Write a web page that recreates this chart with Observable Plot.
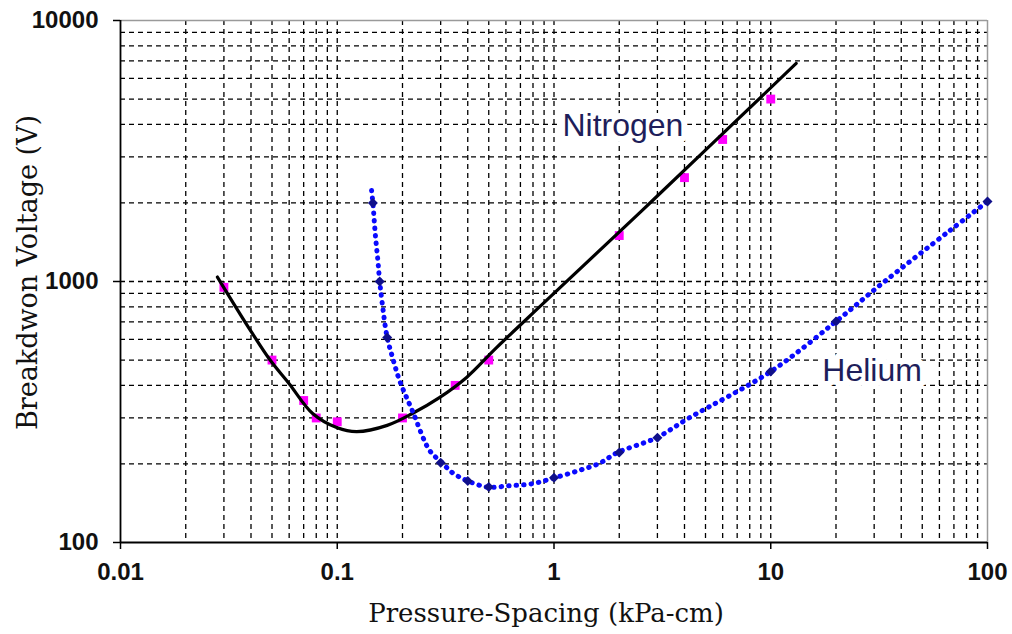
<!DOCTYPE html>
<html><head><meta charset="utf-8">
<script src="https://cdn.jsdelivr.net/npm/d3@7"></script>
<script src="https://cdn.jsdelivr.net/npm/@observablehq/plot@0.6"></script>
<style>html,body{margin:0;padding:0;background:#fff}</style>
</head><body><div id="chart"></div>
<script>
// Axis ticks and grid
const xTicks = [0.01, 0.1, 1, 10, 100];
const xTickLabels = ["0.01", "0.1", "1", "10", "100"];
const yTicks = [100, 1000, 10000];
const yTickLabels = ["100", "1000", "10000"];
const xGrid = [0.02,0.03,0.04,0.05,0.06,0.07,0.08,0.09,0.1,0.2,0.3,0.4,0.5,0.6,0.7,0.8,0.9,1,2,3,4,5,6,7,8,9,10,20,30,40,50,60,70,80,90];
const yGrid = [200,300,400,500,600,700,800,900,1000,2000,3000,4000,5000,6000,7000,8000,9000];

// Nitrogen measured points (magenta squares)
const n2PointX = [0.03, 0.05, 0.07, 0.08, 0.1, 0.2, 0.35, 0.5, 2, 4, 6, 10];
const n2PointY = [950, 500, 350, 300, 290, 300, 400, 500, 1500, 2500, 3500, 5000];
// Nitrogen fitted curve (black line)
const n2CurveX = [0.028, 0.039, 0.049, 0.060, 0.077, 0.100, 0.123, 0.170, 0.222, 0.296, 0.395, 0.543, 0.923, 2.85, 13.1];
const n2CurveY = [1040, 666, 500, 406, 312, 275, 266, 281, 312, 359, 429, 558, 846, 2043, 6845];

// Helium measured points (diamonds)
const hePointX = [0.146, 0.157, 0.17, 0.3, 0.4, 0.5, 1, 2, 3, 10, 20, 100];
const hePointY = [2000, 1000, 610, 202, 172, 163, 177, 221, 252, 452, 703, 2026];
// Helium curve (blue dotted line)
const heCurveX = [0.144, 0.146, 0.150, 0.154, 0.157, 0.162, 0.170, 0.180, 0.194, 0.222, 0.267, 0.303, 0.340, 0.395, 0.493, 0.623, 0.795, 1.005, 1.31, 1.62, 1.96, 2.97, 4.2, 10, 20, 33, 67, 100];
const heCurveY = [2230, 2000, 1500, 1200, 1000, 800, 610, 511, 417, 320, 225, 203, 185, 173, 163, 165, 168, 177, 189, 201, 221, 252, 300, 452, 703, 990, 1567, 2026];

// Curve labels
const labelText = ["Nitrogen", "Helium"];
const labelX = [1.094, 17.3];
const labelY = [3597, 417];

const zip = (xs, ys) => xs.map((x, i) => ({x, y: ys[i]}));
const n2Points = zip(n2PointX, n2PointY);
const n2Curve = zip(n2CurveX, n2CurveY);
const hePoints = zip(hePointX, hePointY);
const heCurve = zip(heCurveX, heCurveY);
const xTickData = xTicks.map((v, i) => ({v, label: xTickLabels[i]}));
const yTickData = yTicks.map((v, i) => ({v, label: yTickLabels[i]}));
const labels = labelText.map((t, i) => ({t, x: labelX[i], y: labelY[i]}));

const sans = "'Liberation Sans', Arial, sans-serif";
const serif = "'DejaVu Serif', serif";

const chart = Plot.plot({
  width: 1012,
  height: 634,
  marginLeft: 120,
  marginRight: 25,
  marginTop: 20,
  marginBottom: 92,
  x: {type: "log", domain: [0.01, 100], axis: null},
  y: {type: "log", domain: [100, 10000], axis: null},
  style: {background: "white", overflow: "visible"},
  marks: [
    Plot.ruleX(xGrid, {stroke: "black", strokeWidth: 1.3, strokeDasharray: "5,4"}),
    Plot.ruleY(yGrid, {stroke: "black", strokeWidth: 1.3, strokeDasharray: "5,4"}),
    Plot.ruleY([10000], {stroke: "#9a9a9a", strokeWidth: 1.5}),
    Plot.ruleX([100], {stroke: "#9a9a9a", strokeWidth: 1.5}),
    Plot.ruleX([0.01], {stroke: "black", strokeWidth: 1.8}),
    Plot.ruleY([100], {stroke: "black", strokeWidth: 2}),
    Plot.axisX(xTicks, {anchor: "bottom", tickSize: 7, tickFormat: () => "", stroke: "black", strokeWidth: 1.5, label: null}),
    Plot.axisY(yTicks, {anchor: "left", tickSize: 7, tickFormat: () => "", stroke: "black", strokeWidth: 1.5, label: null}),
    Plot.text(labels, {x: "x", y: "y", text: "t", textAnchor: "start", lineAnchor: "bottom",
      fontSize: 32, fontFamily: sans, fill: "white", stroke: "white", strokeWidth: 12, letterSpacing: 0.5}),
    Plot.dot(n2Points, {x: "x", y: "y", symbol: "square", r: 5, fill: "#ff00ff", stroke: "none"}),
    Plot.line(n2Curve, {x: "x", y: "y", stroke: "black", strokeWidth: 3.2, curve: "catmull-rom"}),
    Plot.line(heCurve, {x: "x", y: "y", stroke: "#0a0aff", strokeWidth: 5, strokeDasharray: "0.5,7", strokeLinecap: "round", curve: "catmull-rom"}),
    Plot.dot(hePoints, {x: "x", y: "y", symbol: "diamond2", r: 4.5, fill: "#10108a", stroke: "none"}),
    Plot.text(labels, {x: "x", y: "y", text: "t", textAnchor: "start", lineAnchor: "bottom",
      fontSize: 32, fontFamily: sans, fill: "#1e1e5a", letterSpacing: 0.5}),
    Plot.text(xTickData, {x: "v", text: "label", frameAnchor: "bottom", dy: 37,
      fontSize: 24, fontWeight: "bold", fontFamily: sans, fill: "#111"}),
    Plot.text(yTickData, {y: "v", text: "label", frameAnchor: "left", dx: -22, textAnchor: "end",
      fontSize: 24, fontWeight: "bold", fontFamily: sans, fill: "#111"}),
    Plot.text(["Pressure-Spacing (kPa-cm)"], {frameAnchor: "bottom", textAnchor: "middle", dx: -8, dy: 79, lineAnchor: "bottom",
      fontSize: 26, fontFamily: serif, fill: "#111", letterSpacing: 1.4}),
    Plot.text(["Breakdwon Voltage (V)"], {frameAnchor: "left", textAnchor: "middle", dx: -92, dy: -9, rotate: -90,
      fontSize: 27, fontFamily: serif, fill: "#111", letterSpacing: 2})
  ]
});
document.getElementById("chart").appendChild(chart);
</script>
</body></html>
